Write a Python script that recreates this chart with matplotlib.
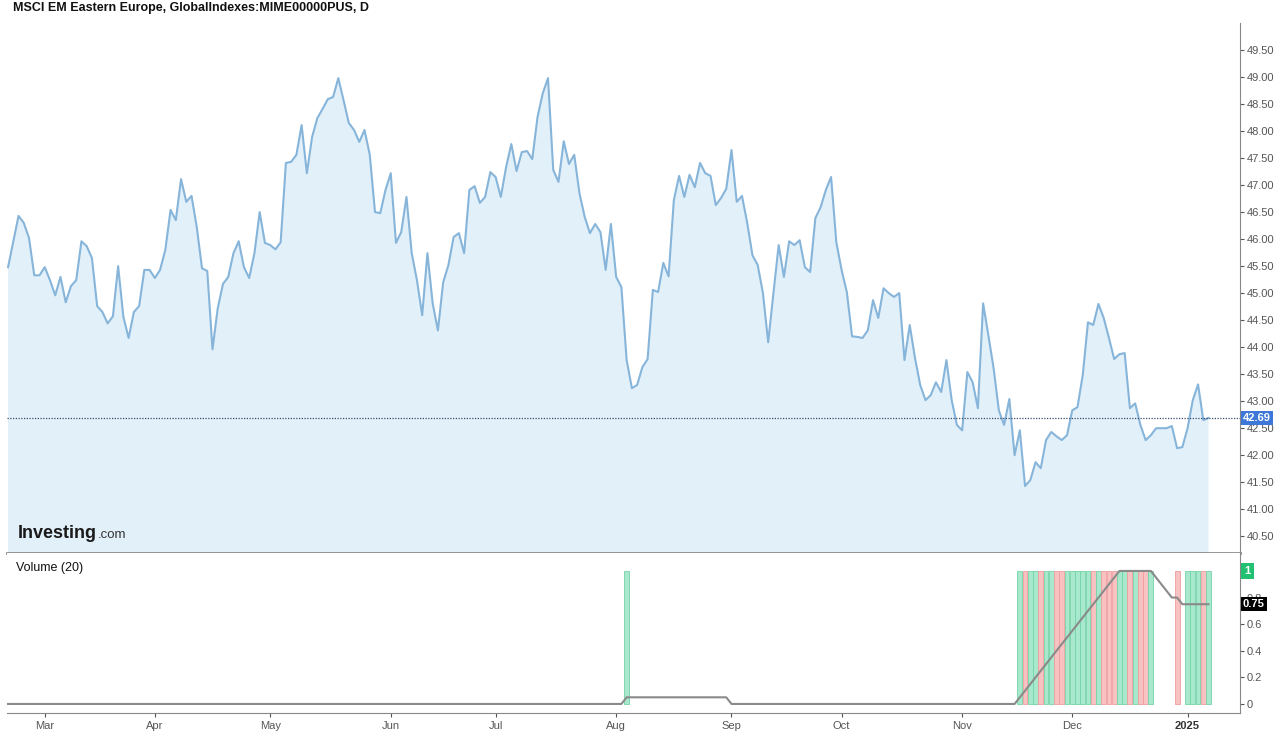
import matplotlib
matplotlib.use("Agg")
import matplotlib.pyplot as plt
import numpy as np
import pandas as pd

plt.rcParams['font.family'] = ['Liberation Sans', 'DejaVu Sans']

# daily closes (first day 2024-02-21, business days)
price = [
    45.48, 45.96, 46.43, 46.30, 46.02, 45.33, 45.33, 45.48, 45.24, 44.96,
    45.30, 44.83, 45.13, 45.24, 45.96, 45.87, 45.65, 44.76, 44.65, 44.44,
    44.57, 45.50, 44.56, 44.17, 44.65, 44.76, 45.43, 45.43, 45.28, 45.43,
    45.80, 46.54, 46.35, 47.11, 46.69, 46.80, 46.22, 45.46, 45.41, 43.96,
    44.72, 45.17, 45.30, 45.74, 45.96, 45.48, 45.28, 45.74, 46.50, 45.93,
    45.89, 45.81, 45.94, 47.41, 47.43, 47.56, 48.11, 47.22, 47.89, 48.24,
    48.41, 48.59, 48.63, 48.98, 48.57, 48.15, 48.02, 47.80, 48.02, 47.56,
    46.50, 46.48, 46.91, 47.22, 45.93, 46.13, 46.78, 45.74, 45.24, 44.59,
    45.74, 44.81, 44.31, 45.20, 45.52, 46.04, 46.11, 45.74, 46.91, 46.98,
    46.67, 46.78, 47.24, 47.15, 46.78, 47.33, 47.76, 47.26, 47.61, 47.63,
    47.48, 48.26, 48.70, 48.98, 47.28, 47.06, 47.81, 47.39, 47.56, 46.85,
    46.41, 46.11, 46.28, 46.13, 45.43, 46.28, 45.30, 45.11, 43.76, 43.24,
    43.30, 43.63, 43.78, 45.06, 45.02, 45.56, 45.31, 46.72, 47.17, 46.78,
    47.19, 46.96, 47.41, 47.22, 47.17, 46.63, 46.76, 46.93, 47.65, 46.69,
    46.80, 46.30, 45.70, 45.52, 45.00, 44.09, 45.00, 45.89, 45.30, 45.96,
    45.89, 45.98, 45.48, 45.39, 46.39, 46.59, 46.91, 47.15, 45.94, 45.43,
    45.02, 44.20, 44.19, 44.17, 44.31, 44.87, 44.54, 45.09, 45.00, 44.93,
    45.00, 43.76, 44.41, 43.80, 43.30, 43.02, 43.11, 43.35, 43.17, 43.76,
    43.02, 42.56, 42.46, 43.54, 43.35, 42.87, 44.81, 44.22, 43.61, 42.83,
    42.56, 43.04, 42.00, 42.46, 41.43, 41.54, 41.87, 41.76, 42.28, 42.43,
    42.35, 42.28, 42.37, 42.83, 42.89, 43.48, 44.46, 44.41, 44.80, 44.54,
    44.17, 43.78, 43.87, 43.89, 42.87, 42.96, 42.56, 42.28, 42.37, 42.50,
    42.50, 42.50, 42.54, 42.13, 42.15, 42.50, 43.02, 43.31, 42.65, 42.69,
]
start_date = "2024-02-21"
last_price = 42.69

# days with a volume bar (volume = 1) and their direction (u = up, d = down)
vol_days = [118] + list(range(193, 219)) + [223] + list(range(225, 230))
vol_dir = "u" + "uduuduudduuuuududdduududdu" + "d" + "uuudu"

price_ticks = [40.5, 41.0, 41.5, 42.0, 42.5, 43.0, 43.5, 44.0, 44.5, 45.0,
               45.5, 46.0, 46.5, 47.0, 47.5, 48.0, 48.5, 49.0, 49.5]
vol_ticks = [0, 0.2, 0.4, 0.6, 0.8]
vol_avg_last = 0.75

n = len(price)
x = np.arange(n)
dates = pd.bdate_range(start_date, periods=n)
volume = np.zeros(n)
volume[vol_days] = 1
vol_ma = pd.Series(volume).rolling(20, min_periods=1).mean()

# month ticks at first trading day of each month
tick_pos = [i for i in range(1, n) if dates[i].month != dates[i - 1].month]
tick_lab = [str(dates[i].year) if dates[i].month == 1 else dates[i].strftime("%b")
            for i in tick_pos]

W, H = 1280, 734
fig = plt.figure(figsize=(W / 100, H / 100), dpi=100)
fig.patch.set_facecolor("white")

left, right = 7, 1240
ax = fig.add_axes([left / W, (H - 553) / H, (right - left) / W, (553 - 23) / H])
axv = fig.add_axes([left / W, (H - 713) / H, (right - left) / W, (713 - 553) / H])

line_col = "#87b5da"
fill_col = "#e2f0fa"
ax.fill_between(x, price, 0, color=fill_col, lw=0)
ax.plot(x, price, color=line_col, lw=1.5)
ax.axhline(last_price, color="#3b4a6b", lw=0.9, ls=(0, (1, 1.2)))

ax.set_xlim(-0.2, 235)
ax.set_ylim(40.19, 50.0)
ax.set_yticks(price_ticks)
ax.set_yticklabels(["%.2f" % t for t in price_ticks])
ax.yaxis.tick_right()
ax.tick_params(axis="y", labelsize=8, colors="#555555", length=3, pad=2)
ax.set_xticks([])
for s in ["top", "left"]:
    ax.spines[s].set_visible(False)
ax.spines["right"].set_color("#888888")
ax.spines["bottom"].set_color("#8c8c8c")
ax.spines["bottom"].set_linewidth(2)

ax.annotate("%.2f" % last_price, xy=(1, last_price), xycoords=("axes fraction", "data"),
            xytext=(2, 0), textcoords="offset points", ha="left", va="center",
            fontsize=8, color="white", fontweight="bold",
            bbox=dict(boxstyle="square,pad=0.2", fc="#3d78d8", ec="none"))

# volume panel
cols = {"u": ("#a8e8cc", "#74d3a8"), "d": ("#f9c2c2", "#f09e9e")}
for d, c in zip(vol_days, vol_dir):
    axv.bar(d, volume[d], width=0.92, color=cols[c][0], edgecolor=cols[c][1], lw=0.6)
axv.plot(x, vol_ma, color="#8a8a8a", lw=1.5)

axv.set_xlim(-0.2, 235)
axv.set_ylim(-0.068, 1.135)
axv.set_yticks(vol_ticks)
axv.set_yticklabels(["0", "0.2", "0.4", "0.6", "0.8"])
axv.yaxis.tick_right()
axv.tick_params(axis="y", labelsize=8, colors="#555555", length=3, pad=2)
axv.set_xticks(tick_pos)
axv.set_xticklabels(tick_lab)
axv.tick_params(axis="x", labelsize=8, colors="#555555", length=3, pad=3)
for lab in axv.get_xticklabels():
    if lab.get_text().isdigit():
        lab.set_fontweight("bold")
        lab.set_color("#333333")
for s in ["top", "left"]:
    axv.spines[s].set_visible(False)
axv.spines["right"].set_color("#888888")
axv.spines["bottom"].set_color("#888888")

axv.annotate("1", xy=(1, 1), xycoords=("axes fraction", "data"),
             xytext=(3, 0), textcoords="offset points", ha="left", va="center",
             fontsize=8, color="white", fontweight="bold",
             bbox=dict(boxstyle="square,pad=0.3", fc="#22c172", ec="none"))
axv.annotate("%.2f" % vol_avg_last, xy=(1, vol_avg_last), xycoords=("axes fraction", "data"),
             xytext=(2, 0), textcoords="offset points", ha="left", va="center",
             fontsize=8, color="white", fontweight="bold",
             bbox=dict(boxstyle="square,pad=0.2", fc="#000000", ec="none"))

axv.text(9 / (right - left), 1 - 15 / 160, "Volume (20)", transform=axv.transAxes,
         fontsize=9, color="#111111", va="center", ha="left")

fig.text(13 / W, 1 - 8 / H, "MSCI EM Eastern Europe, GlobalIndexes:MIME00000PUS, D",
         fontsize=9, fontweight="bold", color="#111111", va="center", ha="left")

# watermark
fig.text(18 / W, 1 - 534 / H, "Investing", fontsize=13, fontweight="bold",
         color="#1a1a1a", va="center", ha="left")
fig.text(98 / W, 1 - 535 / H, ".com", fontsize=9.5, color="#333333",
         va="center", ha="left")

fig.savefig("out.png", dpi=100)
